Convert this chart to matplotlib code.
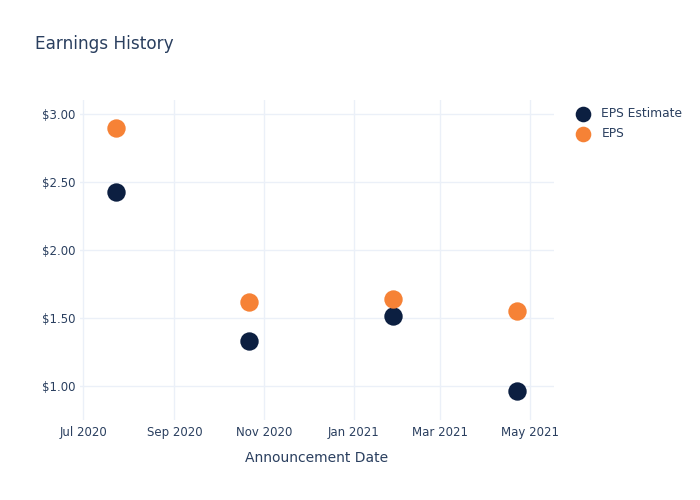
import numpy as np
import pandas as pd
import matplotlib
matplotlib.use("Agg")
import matplotlib.pyplot as plt
import matplotlib.dates as mdates
from matplotlib.ticker import FuncFormatter

# data
dates = pd.to_datetime(["2020-07-23", "2020-10-22", "2021-01-28", "2021-04-22"])
eps_estimate = [2.43, 1.33, 1.51, 0.96]
eps_actual = [2.90, 1.62, 1.64, 1.55]

txt = "#2a3f5f"
grid = "#ebf0f8"

fig = plt.figure(figsize=(7, 5), dpi=100)
ax = fig.add_axes([80 / 700, 80 / 500, 474 / 700, 320 / 500])

ax.scatter(dates, eps_estimate, s=175, color="#0c1f41", label="EPS Estimate", zorder=3, linewidths=0)
ax.scatter(dates, eps_actual, s=175, color="#f68236", label="EPS", zorder=3, linewidths=0)

ax.set_xlim(pd.Timestamp("2020-06-28 18:00"), pd.Timestamp("2021-05-17 08:00"))
ax.set_ylim(0.747, 3.105)

ax.xaxis.set_major_locator(mdates.MonthLocator(bymonth=[1, 3, 5, 7, 9, 11]))
ax.xaxis.set_major_formatter(mdates.DateFormatter("%b %Y"))
ax.set_yticks([1.0, 1.5, 2.0, 2.5, 3.0])
ax.yaxis.set_major_formatter(FuncFormatter(lambda v, p: "${:.2f}".format(v)))

ax.grid(True, color=grid, linewidth=1)
ax.set_axisbelow(True)
for s in ax.spines.values():
    s.set_visible(False)
ax.tick_params(axis="y", length=0, colors=txt, labelsize=8.5, pad=3)
ax.tick_params(axis="x", length=0, colors=txt, labelsize=8.5, pad=4)

ax.set_xlabel("Announcement Date", color=txt, fontsize=10, labelpad=9)
fig.text(35 / 700, 1 - 44 / 500, "Earnings History", color=txt, fontsize=12.2, va="center")

leg = ax.legend(loc="upper left", bbox_to_anchor=(1.02, 1.0), frameon=False,
                fontsize=8.8, labelcolor=txt, handletextpad=0.5, labelspacing=0.55,
                markerscale=0.85, borderaxespad=0.2)

fig.savefig("out.png", dpi=100)
